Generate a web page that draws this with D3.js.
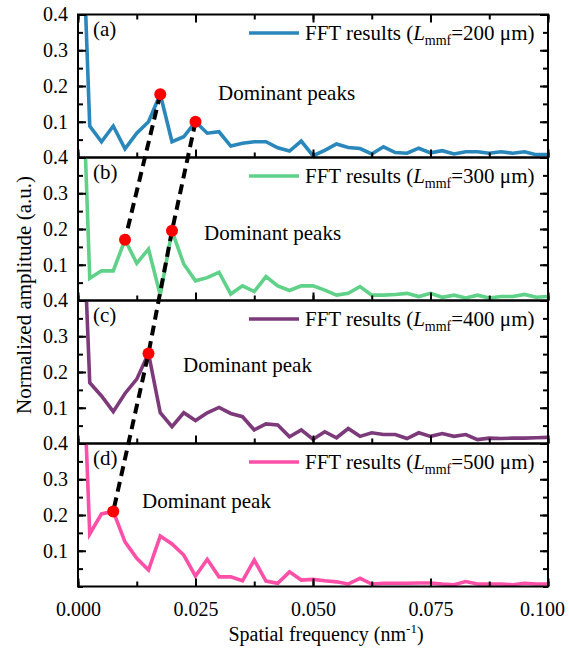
<!DOCTYPE html>
<html><head><meta charset="utf-8">
<script src="https://cdn.jsdelivr.net/npm/d3@7"></script>
<style>body{margin:0;background:#fff}svg{display:block}
svg text{font-family:"Liberation Serif","Times New Roman",Tinos,"DejaVu Serif","Noto Serif",serif;fill:#000}</style>
</head><body><svg id="c" width="569" height="652"></svg>
<script>
// spatial frequency step (nm^-1); sample k sits at k*step
const step = 0.0025;
const lengths = ["200", "300", "400", "500"];
const panelLabels = ["(a)", "(b)", "(c)", "(d)"];
const annotations = ["Dominant peaks", "Dominant peaks", "Dominant peak", "Dominant peak"];
const colors = ["#2a87bb", "#5fd188", "#7d3a7b", "#fb4fa8"];
const seriesA = [1.0,0.088,0.044,0.088,0.024,0.068,0.100,0.177,0.044,0.058,0.100,0.068,0.072,0.032,0.040,0.044,0.044,0.027,0.018,0.046,0.005,0.020,0.038,0.028,0.025,0.010,0.030,0.014,0.012,0.026,0.013,0.019,0.010,0.016,0.016,0.012,0.016,0.012,0.016,0.008,0.008];
const seriesB = [1.0,0.062,0.083,0.083,0.170,0.104,0.144,0.015,0.195,0.102,0.055,0.064,0.079,0.018,0.041,0.025,0.067,0.041,0.028,0.041,0.041,0.029,0.015,0.020,0.039,0.015,0.015,0.017,0.020,0.011,0.020,0.009,0.015,0.007,0.015,0.007,0.011,0.011,0.017,0.009,0.011];
const seriesC = [1.0,0.170,0.133,0.089,0.140,0.180,0.252,0.086,0.047,0.086,0.064,0.086,0.101,0.084,0.075,0.038,0.055,0.052,0.019,0.038,0.012,0.033,0.016,0.042,0.020,0.030,0.025,0.025,0.014,0.030,0.020,0.028,0.020,0.025,0.011,0.015,0.014,0.015,0.015,0.016,0.017];
const seriesD = [1.0,0.147,0.203,0.210,0.125,0.079,0.046,0.141,0.119,0.088,0.029,0.076,0.027,0.027,0.016,0.074,0.015,0.009,0.041,0.018,0.020,0.016,0.013,0.007,0.023,0.007,0.009,0.009,0.009,0.010,0.010,0.007,0.005,0.014,0.007,0.007,0.007,0.005,0.009,0.007,0.007];
const series = [seriesA, seriesB, seriesC, seriesD];
// dominant peaks: [panel, sample index]
const peaks = [[0,7],[0,10],[1,4],[1,8],[2,6],[3,3]];
const dashPaths = [[[0,7],[1,4]], [[0,10],[1,8],[2,6],[3,3]]];
const xTicks = [0, 0.025, 0.05, 0.075, 0.1];
const yTicks = [0.1, 0.2, 0.3, 0.4];

const FONT = '"Liberation Serif","Times New Roman",Tinos,"DejaVu Serif","Noto Serif",serif';
const svg = d3.select("#c");
const L = 78, R = 548, T = 14.5, PH = 143;
const x = d3.scaleLinear().domain([0, 0.1]).range([L, R]);
const ys = series.map((s, i) => d3.scaleLinear().domain([0, 0.4]).range([T + PH*(i+1), T + PH*i]));
const minorX = d3.range(0, 0.1001, 0.0125);
const minorY = d3.range(0, 0.4001, 0.05);

const defs = svg.append("defs");
series.forEach((s, i) => {
  defs.append("clipPath").attr("id", "clip" + i).append("rect")
    .attr("x", L).attr("y", T + PH*i).attr("width", R - L).attr("height", PH);
});

series.forEach((s, i) => {
  const y = ys[i];
  const g = svg.append("g");
  const line = d3.line().x((d, k) => x(k*step)).y(d => y(d));
  g.append("path").datum(s).attr("clip-path", `url(#clip${i})`)
    .attr("d", line).attr("fill", "none").attr("stroke", colors[i])
    .attr("stroke-width", 3.6).attr("stroke-linejoin", "miter");

  const ax = (gen, tr) => g.append("g").attr("transform", tr).call(gen)
    .attr("font-family", FONT)
    .call(a => a.select(".domain").remove())
    .call(a => a.selectAll("line").attr("stroke", "#000").attr("stroke-width", 2))
    .call(a => a.selectAll("text").style("font-size", "20px").style("font-family", FONT));
  ax(d3.axisLeft(y).tickValues(yTicks).tickSize(-8).tickPadding(10).tickFormat(d3.format(".1f")), `translate(${L},0)`);
  ax(d3.axisLeft(y).tickValues(minorY).tickSize(-5).tickFormat(""), `translate(${L},0)`);
  ax(d3.axisRight(y).tickValues(yTicks).tickSize(-8).tickFormat(""), `translate(${R},0)`);
  ax(d3.axisRight(y).tickValues(minorY).tickSize(-5).tickFormat(""), `translate(${R},0)`);
  const bottomY = T + PH*(i+1);
  if (i === series.length - 1) {
    ax(d3.axisBottom(x).tickValues(xTicks).tickSize(-8).tickPadding(15).tickFormat(d3.format(".3f")), `translate(0,${bottomY})`)
      .selectAll("text").filter(d => d === 0.1).attr("dx", -6);
  } else {
    ax(d3.axisBottom(x).tickValues(xTicks).tickSize(-8).tickFormat(""), `translate(0,${bottomY})`);
  }
  ax(d3.axisBottom(x).tickValues(minorX).tickSize(-5).tickFormat(""), `translate(0,${bottomY})`);
  if (i === 0) {
    ax(d3.axisTop(x).tickValues(xTicks).tickSize(-8).tickFormat(""), `translate(0,${T})`);
    ax(d3.axisTop(x).tickValues(minorX).tickSize(-5).tickFormat(""), `translate(0,${T})`);
  }

  const top = T + PH*i;
  g.append("rect").attr("x", L).attr("y", top).attr("width", R - L).attr("height", PH)
    .attr("fill", "none").attr("stroke", "#000").attr("stroke-width", 2);

  g.append("text").attr("x", 93).attr("y", top + 21).style("font-size", "21px").text(panelLabels[i]);
  g.append("line").attr("x1", 249).attr("x2", 299).attr("y1", top + 18.5).attr("y2", top + 18.5)
    .attr("stroke", colors[i]).attr("stroke-width", 3.6);
  const lt = g.append("text").attr("x", 305).attr("y", top + 25).style("font-size", "21px");
  lt.append("tspan").text("FFT results (");
  lt.append("tspan").attr("font-style", "italic").text("L");
  lt.append("tspan").attr("dy", 5).style("font-size", "14px").text("mmf");
  lt.append("tspan").attr("dy", -5).text("=" + lengths[i] + " \u03bcm)");
});

const annX = [218, 204, 183, 142];
const annDy = [85.5, 82, 71, 64];
annotations.forEach((t, i) => {
  svg.append("text").attr("x", annX[i]).attr("y", T + PH*i + annDy[i]).style("font-size", "21px").text(t);
});

const pt = ([p, k]) => [x(k*step), ys[p](series[p][k])];
dashPaths.forEach(dp => {
  svg.append("path").attr("d", d3.line()(dp.map(pt))).attr("fill", "none")
    .attr("stroke", "#000").attr("stroke-width", 4).attr("stroke-dasharray", "10,6");
});
svg.selectAll("circle.peak").data(peaks).join("circle").attr("class", "peak")
  .attr("cx", d => pt(d)[0]).attr("cy", d => pt(d)[1]).attr("r", 6).attr("fill", "#ff0000");

const xl = svg.append("text").attr("x", 326).attr("y", 641).attr("text-anchor", "middle").style("font-size", "20px");
xl.append("tspan").text("Spatial frequency (nm");
xl.append("tspan").attr("dy", -8).style("font-size", "13px").text("-1");
xl.append("tspan").attr("dy", 8).text(")");
svg.append("text").attr("transform", "translate(31,295) rotate(-90)").attr("text-anchor", "middle")
  .style("font-size", "21px").text("Normalized amplitude (a.u.)");
</script></body></html>
